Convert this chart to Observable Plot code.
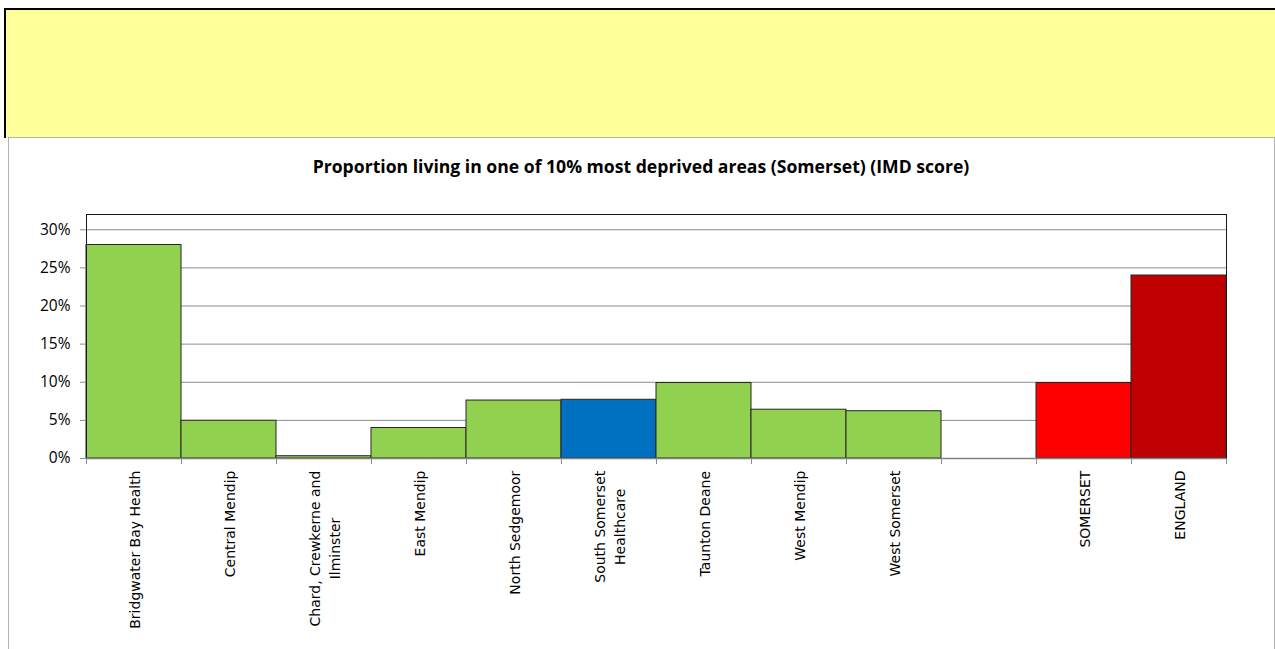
<!DOCTYPE html>
<html><head><meta charset="utf-8">
<script src="https://cdn.jsdelivr.net/npm/d3@7"></script>
<script src="https://cdn.jsdelivr.net/npm/@observablehq/plot@0.6"></script>
<style>
html,body{margin:0;padding:0;background:#fff;}
body{width:1275px;height:649px;overflow:hidden;position:relative;font-family:"Open Sans",sans-serif;}
#banner{position:absolute;left:4px;top:8px;width:1300px;height:128px;background:#FFFF99;border-top:2px solid #000;border-left:2px solid #000;}
#frame{position:absolute;left:8px;top:137px;width:1265px;height:640px;border:1px solid #b4b4b4;background:#fff;}
#title{position:absolute;left:8px;width:1266px;top:154px;text-align:center;font-weight:bold;font-size:17.6px;line-height:24px;color:#000;}
#chart{position:absolute;left:8px;top:190px;}
</style>
</head><body>
<div id="banner"></div>
<div id="frame"></div>
<div id="title">Proportion living in one of 10% most deprived areas (Somerset) (IMD score)</div>
<div id="chart"></div>
<script>
const categories = ["Bridgwater Bay Health","Central Mendip","Chard, Crewkerne and Ilminster","East Mendip","North Sedgemoor","South Somerset Healthcare","Taunton Deane","West Mendip","West Somerset"," ","SOMERSET","ENGLAND"];
const labels = ["Bridgwater Bay Health","Central Mendip","Chard, Crewkerne and\nIlminster","East Mendip","North Sedgemoor","South Somerset\nHealthcare","Taunton Deane","West Mendip","West Somerset","","SOMERSET","ENGLAND"];
const values = [0.280,0.0495,0.003,0.040,0.076,0.077,0.099,0.064,0.062,null,0.099,0.240];
const colors = ["#92D050","#92D050","#92D050","#92D050","#92D050","#0070C0","#92D050","#92D050","#92D050","#92D050","#FF0000","#C00000"];
const yTicks = [0,0.05,0.10,0.15,0.20,0.25,0.30];
const yDomain = [0,0.32];

const rows = categories.map((c,i)=>({name:c,label:labels[i],value:values[i],color:colors[i]}));
const W = 1266, H = 459, ML = 78, MR = 48, MT = 24, MB = 191;
const bw = (W-ML-MR)/categories.length;
const tickLen = 6 * yDomain[1] / (H-MT-MB);

const plot = Plot.plot({
  width: W, height: H,
  marginLeft: ML, marginRight: MR, marginTop: MT, marginBottom: MB,
  style:{fontFamily:"Open Sans",fontSize:"15px",color:"#000",background:"transparent",overflow:"visible"},
  x:{type:"band",domain:categories,padding:0,axis:null},
  y:{domain:yDomain,axis:null},
  color:{type:"identity"},
  marks:[
    Plot.gridY(yTicks.filter(d=>d>0),{stroke:"#8c8c8c",strokeOpacity:1}),
    Plot.barY(rows.filter(d=>d.value!=null),{x:"name",y:"value",fill:"color",stroke:"#262626",strokeWidth:1}),
    Plot.frame({stroke:"#1a1a1a"}),
    Plot.ruleY([0],{stroke:"#7f7f7f",strokeWidth:1.5}),
    Plot.ruleX(categories,{x:d=>d,y1:0,y2:-tickLen,dx:-bw/2,stroke:"#8c8c8c"}),
    Plot.ruleX([categories[categories.length-1]],{x:d=>d,y1:0,y2:-tickLen,dx:bw/2,stroke:"#8c8c8c"}),
    Plot.axisY({ticks:yTicks,tickFormat:d3.format(".0%"),tickSize:6,tickPadding:10,stroke:"#8c8c8c",fill:"#000",label:null,fontSize:15.5,fontFamily:"Open Sans"}),
    Plot.text(rows,{x:"name",text:"label",frameAnchor:"bottom",dy:12,rotate:-90,textAnchor:"end",lineAnchor:"middle",lineHeight:1.4,fontSize:14,fontFamily:"DejaVu Sans",fill:"#000"})
  ]
});
document.getElementById("chart").appendChild(plot);
plot.querySelectorAll('g[aria-label="text"] text').forEach(t=>{
  const w = t.getBBox().width;
  t.setAttribute("text-anchor","middle");
  t.setAttribute("transform",(t.getAttribute("transform")||"")+` translate(${-w/2},0)`);
});
</script>
</body></html>
